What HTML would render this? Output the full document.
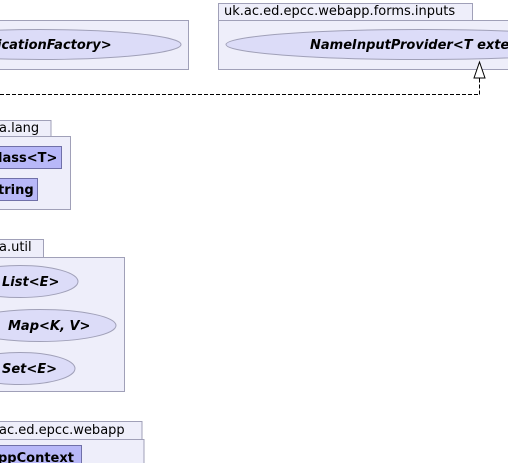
<!DOCTYPE html>
<html><head><meta charset="utf-8"><style>
html,body{margin:0;padding:0;background:#fff;width:508px;height:463px;overflow:hidden}
text{font-family:"DejaVu Sans","Liberation Sans",sans-serif;font-size:13px}
.b{font-weight:bold}.bi{font-weight:bold;font-style:italic}
</style></head><body>
<svg width="508" height="463" xmlns="http://www.w3.org/2000/svg">
<g stroke="#a0a0b8" stroke-width="1">
<rect x="-10" y="20.5" width="198.5" height="49" fill="#eeeefa"/>
<ellipse cx="40" cy="44.5" rx="141" ry="15" fill="#dcdcf8"/>
<rect x="218.5" y="3.5" width="254" height="17" fill="#eeeefa"/>
<rect x="218.5" y="20.5" width="300" height="49" fill="#eeeefa"/>
<ellipse cx="420" cy="44.5" rx="194" ry="15" fill="#dcdcf8"/>
<rect x="-10" y="120.5" width="61" height="16" fill="#eeeefa"/>
<rect x="-10" y="136.5" width="80.5" height="73" fill="#eeeefa"/>
<rect x="-10" y="146.5" width="71.5" height="22" fill="#b8b8f8" stroke="#7070a8"/>
<rect x="-10" y="178.5" width="47.5" height="22" fill="#b8b8f8" stroke="#7070a8"/>
<rect x="-10" y="239.5" width="53.5" height="18" fill="#eeeefa"/>
<rect x="-10" y="257.5" width="134.5" height="134" fill="#eeeefa"/>
<ellipse cx="20" cy="281.5" rx="58" ry="16" fill="#dcdcf8"/>
<ellipse cx="40" cy="325.5" rx="76" ry="16" fill="#dcdcf8"/>
<ellipse cx="20" cy="368.5" rx="55" ry="16" fill="#dcdcf8"/>
<rect x="-10" y="421.5" width="152" height="18" fill="#eeeefa"/>
<rect x="-10" y="439.5" width="154" height="40" fill="#eeeefa"/>
<rect x="-10" y="445.5" width="91.5" height="30" fill="#b8b8f8" stroke="#7070a8"/>
</g>
<g stroke="#000" stroke-width="1" fill="none" stroke-dasharray="4,2">
<line x1="0" y1="94.5" x2="479.5" y2="94.5"/>
<line x1="479.5" y1="94.5" x2="479.5" y2="78"/>
</g>
<polygon points="479.5,62 474,78 485,78" fill="#fff" stroke="#000"/>
<text x="-3" y="49" class="bi">icationFactory&gt;</text>
<text x="224" y="15">uk.ac.ed.epcc.webapp.forms.inputs</text>
<text x="310" y="49" class="bi">NameInputProvider&lt;T extends</text>
<text x="-1" y="132">a.lang</text>
<text x="-2" y="162" class="b">lass&lt;T&gt;</text>
<text x="-2" y="194" class="b">tring</text>
<text x="-1" y="251">a.util</text>
<text x="2" y="286" class="bi">List&lt;E&gt;</text>
<text x="8" y="330" class="bi">Map&lt;K, V&gt;</text>
<text x="2" y="373" class="bi">Set&lt;E&gt;</text>
<text x="-1" y="434">ac.ed.epcc.webapp</text>
<text x="-2" y="462" class="b">ppContext</text>
</svg>
</body></html>
